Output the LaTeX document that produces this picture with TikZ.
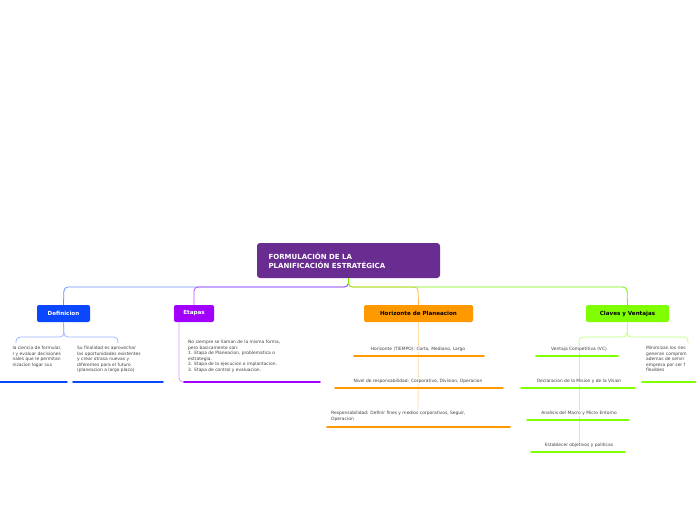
\documentclass[tikz,border=0pt]{standalone}
\usepackage{fontspec}
\setmainfont{DejaVu Sans}
\begin{document}
\begin{tikzpicture}[x=1pt,y=-1pt,
 topic/.style={rounded corners=2pt,font=\fontsize{5.6}{6.5}\selectfont\bfseries,inner sep=0pt,minimum height=17pt},
 txt/.style={font=\fontsize{4.4}{5.6}\selectfont,text=black!75,inner sep=0pt,align=left},
 ul/.style={line width=1.8pt,line cap=round},
 conn/.style={line width=0.8pt,rounded corners=4pt}]
\definecolor{tit}{HTML}{692C91}
\definecolor{cb}{HTML}{0A47FF}
\definecolor{cp}{HTML}{A100FF}
\definecolor{co}{HTML}{FF9900}
\definecolor{cg}{HTML}{7FFF00}
\useasboundingbox (0,0) rectangle (696,520);
\node[fill=tit,rounded corners=3pt,minimum width=183pt,minimum height=35pt] (title) at (348.5,260.5) {};
\node[anchor=west,text=white,font=\fontsize{7}{9}\selectfont\bfseries,align=left] at (265,260.5) {FORMULACIÓN DE LA\\PLANIFICACIÓN ESTRATÉGICA};
\node[topic,fill=cb,text=white,minimum width=53pt] (def) at (63.5,313.5) {Definicion};
\node[topic,fill=cp,text=white,minimum width=40pt] (eta) at (194,313.5) {Etapas};
\node[topic,fill=co,text=black,minimum width=109pt] (hor) at (418.5,313.5) {Horizonte de Planeacion};
\node[topic,fill=cg,text=black,minimum width=83pt] (cla) at (627.5,313.5) {Claves y Ventajas};
\draw[conn,cb!60] (title.south) |- (64,287) -- (def.north);
\draw[conn,cp!70] (title.south) |- (194,287) -- (eta.north);
\draw[conn,co!70] (title.south) |- (418,287) -- (hor.north);
\draw[conn,cg!80!black!30!cg] (title.south) |- (627,287) -- (cla.north);
% Definicion
\coordinate (d1) at (16,343); \coordinate (d2) at (118,343);
\draw[conn,cb!40] (def.south) -- (64,337) -| (d1);
\draw[conn,cb!40] (def.south) -- (64,337) -| (d2);
\node[txt,anchor=north east] (dt1) at (62,346) {la ciencia de formular,\\r y evaluar decisiones\\nales que le permitan\\nizacion logar sus};
\node[txt,anchor=north west] (dt2) at (77,346) {Su finalidad es aprovechar\\las oportunidades existentes\\y crear otrasa nuevas y\\diferentes para el futuro\\(planeacion a largo plazo)};
\draw[ul,cb] (0,382) -- (67,382);
\draw[ul,cb] (73,382) -- (163,382);
% Etapas
\node[txt,anchor=north west] (et) at (188,340) {No siempre se llaman de la misma forma,\\pero basicamente son:\\1. Etapa de Planeacion, problematica o\\estrategia.\\2. Etapa de la ejecucion o implantacion.\\3. Etapa de control y evaluacion.};
\draw[conn,cp!40] (179,322) |- (184,382);
\draw[ul,cp] (184,382) -- (320,382);
% Horizonte
\draw[line width=0.8pt,co!35] (hor.south) -- (418,420);
\node[txt,fill=white,inner sep=1pt] (h1) at (418,349) {Horizonte (TIEMPO): Corto, Mediano, Largo};
\draw[ul,co] (354,356) -- (484,356);
\node[txt,fill=white,inner sep=1pt] (h2) at (418,381) {Nivel de responsabilidad: Corporativo, Division, Operacion};
\draw[ul,co] (335,388) -- (503,388);
\node[txt,fill=white,inner sep=1pt,anchor=west] (h3) at (330,416) {Responsabilidad: Definir fines y medios corporativos, Seguir,\\Operacion};
\draw[ul,co] (327,427) -- (510,427);
% Claves
\coordinate (c1) at (579,343); \coordinate (c2) at (688,343);
\draw[conn,cg!50] (cla.south) -- (627,337) -| (c1);
\draw[conn,cg!50] (cla.south) -- (627,337) -| (c2);
\draw[line width=0.8pt,cg!50] (c1) -- (579,445);
\node[txt,fill=white,inner sep=1pt] (k1) at (579,349) {Ventaja Competitiva (VC)};
\draw[ul,cg] (536,356) -- (618,356);
\node[txt,fill=white,inner sep=1pt] (k2) at (579,381) {Declaracion de la Mision y de la Vision};
\draw[ul,cg] (521,388) -- (635,388);
\node[txt,fill=white,inner sep=1pt] (k3) at (579,413) {Analisis del Macro y Micro Entorno};
\draw[ul,cg] (527,420) -- (629,420);
\node[txt,fill=white,inner sep=1pt] (k4) at (579,445) {Establecer objetivos y politicas};
\draw[ul,cg] (531,452) -- (625,452);
\node[txt,anchor=north west] (k5) at (646,346) {Minimizan los ries\\generan comprom\\ademas de servir\\empresa por ser f\\flexibles};
\draw[ul,cg] (642,382) -- (696,382);
\end{tikzpicture}
\end{document}
